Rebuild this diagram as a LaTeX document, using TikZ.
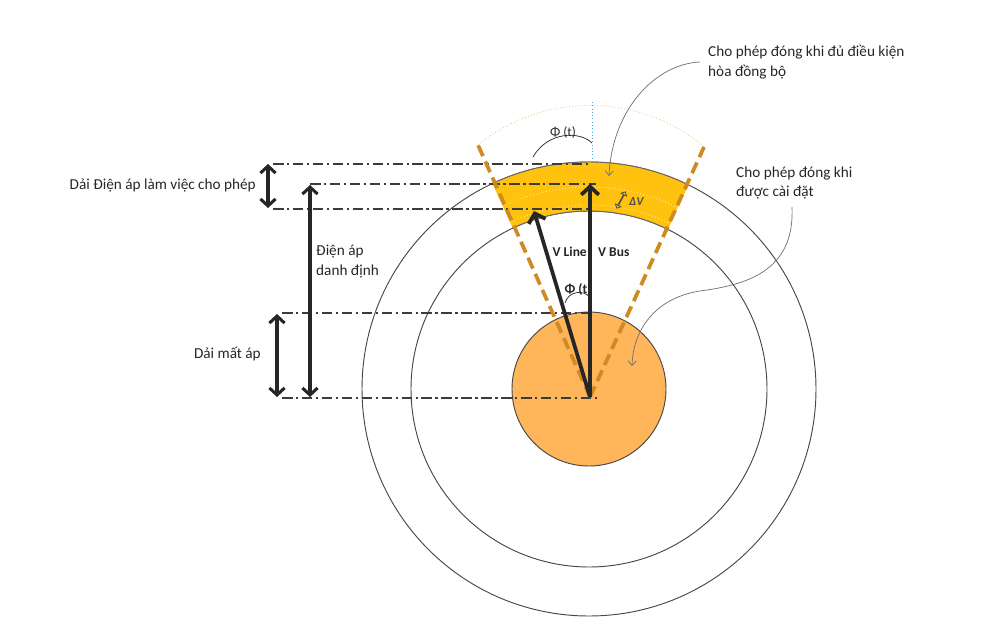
\documentclass[tikz,border=0pt]{standalone}
\usepackage{fontspec}
\setmainfont{Carlito}
\usepackage{tikz}
\usetikzlibrary{arrows.meta,shapes.arrows}
\definecolor{ink}{HTML}{262626}
\definecolor{gold}{HTML}{FFC20E}
\definecolor{peach}{HTML}{FFB55A}
\definecolor{rust}{HTML}{D08A22}
\definecolor{callgray}{HTML}{6E6E6E}
\definecolor{skyblue}{HTML}{4A9FD8}
\tikzset{ring/.style={draw=ink!85,line width=0.8pt},level/.style={ink!90,line width=1.8pt,dash pattern=on 9pt off 3pt on 2pt off 3pt},vec/.style={-{Straight Barb[length=7pt,width=15pt]},line width=3.2pt,ink},span/.style={{Straight Barb[length=6pt,width=13pt]}-{Straight Barb[length=6pt,width=13pt]},line width=2.6pt,ink},limit/.style={rust,line width=3.2pt,dash pattern=on 10pt off 5pt},callout/.style={-{Straight Barb[length=4pt,width=7pt]},callgray,line width=0.6pt},lbl/.style={font=\fontsize{13}{17}\selectfont,text=ink,inner sep=0pt,align=left},vlbl/.style={font=\fontsize{11.5}{13}\selectfont\bfseries,text=ink,inner sep=0pt}}

\begin{document}
\begin{tikzpicture}[x=0.3mm,y=-0.3mm]
\useasboundingbox (0,0) rectangle (1000,637);
\coordinate (C) at (589,389);
\coordinate (O) at (590,397);
\coordinate (limL) at (478,145);
\coordinate (limR) at (704,147);
% rings
\draw[ring] (C) circle[radius=227];
\draw[ring] (C) circle[radius=178];
% yellow band inside the limits
\begin{scope}
\clip (O) -- (440,69) -- (740,74) -- cycle;
\fill[gold,even odd rule] (C) circle[radius=227] (C) circle[radius=178];
\draw[gold!40!white,dotted,line width=0.8pt] (C) circle[radius=202];
\draw[gold!40!white,dotted,line width=0.8pt] (C) circle[radius=184];
\draw[ring,draw=ink!70] (C) circle[radius=227];
\draw[ring,draw=ink!70] (C) circle[radius=178];
\end{scope}
\draw[rust!70,dotted,line width=0.6pt] (limL) arc[start angle=-129,end angle=-50,radius=178];
\coordinate (skyT) at (592,102);
\coordinate (skyB) at (592,158);
\draw[skyblue,dotted,line width=0.8pt] (skyT) -- (skyB);
% inner circle
\draw[ink!85,fill=peach,line width=0.8pt] (C) circle[radius=77];
% levels
\coordinate (topA) at (273,164); \coordinate (topB) at (589,164);
\coordinate (nomA) at (310,184); \coordinate (nomB) at (596,184);
\coordinate (lowA) at (273,209); \coordinate (lowB) at (589,209);
\coordinate (lossA) at (282,313); \coordinate (lossB) at (590,313);
\coordinate (zeroA) at (282,398); \coordinate (zeroB) at (598,398);
\draw[level] (topA) -- (topB);
\draw[level] (nomA) -- (nomB);
\draw[level] (lowA) -- (lowB);
\draw[level] (lossA) -- (lossB);
\draw[level] (zeroA) -- (zeroB);
% limits
\draw[limit] (O) -- (limL);
\draw[limit] (O) -- (limR);
% vectors
\coordinate (vbus) at (590,184);
\coordinate (vline) at (534,211);
\draw[vec] (O) -- (vbus);
\draw[vec] (O) -- (vline);
% angle marks
\draw[ink,line width=0.6pt] (565,303) .. controls (568,291) and (585,289) .. (590,298);
\draw[ink,line width=0.6pt] (533,157) .. controls (548,131) and (580,131) .. (592,143);
% spans
\coordinate (bandT) at (268,164); \coordinate (bandB) at (268,208);
\coordinate (lossT) at (277,314); \coordinate (lossBt) at (277,397);
\coordinate (nomT) at (310,185); \coordinate (nomBt) at (310,397);
\draw[span] (bandT) -- (bandB);
\draw[span] (lossT) -- (lossBt);
\draw[span] (nomT) -- (nomBt);
% labels
\node[lbl,anchor=east] (lblBand) at (256,186) {Dải Điện áp làm việc cho phép};
\node[lbl,anchor=west] (lblNominal) at (316,262) {Điện áp\\danh định};
\node[lbl,anchor=east] (lblLoss) at (261,354) {Dải mất áp};
\node[vlbl,anchor=east] (lblVLine) at (587,252) {V Line};
\node[vlbl,anchor=west] (lblVBus) at (598,252) {V Bus};
\node[vlbl] (lblPhiLow) at (578,290) {Φ (t)};
\node[vlbl,font=\fontsize{11.5}{13}\selectfont] (lblPhiTop) at (563,133) {Φ (t)};
\node[double arrow,draw=ink!80,fill=gold,rotate=62,minimum height=5.5mm,minimum width=1.6mm,double arrow head extend=0.8mm,inner sep=0pt,line width=0.7pt] (dvMark) at (621,200) {};
\node[vlbl,font=\fontsize{10.5}{12}\selectfont\bfseries\itshape,text=ink!80,anchor=west] (lblDV) at (629,202) {ΔV};
\node[lbl,anchor=west] (lblSync) at (708,62) {Cho phép đóng khi đủ điều kiện\\hòa đồng bộ};
\node[lbl,anchor=west] (lblSet) at (736,183) {Cho phép đóng khi\\được cài đặt};
% callouts
\coordinate (syncTip) at (609,176);
\coordinate (setTip) at (632,366);
\draw[callout] ([xshift=-2.4mm]lblSync.west) .. controls (655,64) and (612,110) .. (syncTip);
\draw[callout] (792,207) .. controls (795,272) and (745,285) .. (700,291) .. controls (655,298) and (633,330) .. (setTip);
\end{tikzpicture}
\end{document}
